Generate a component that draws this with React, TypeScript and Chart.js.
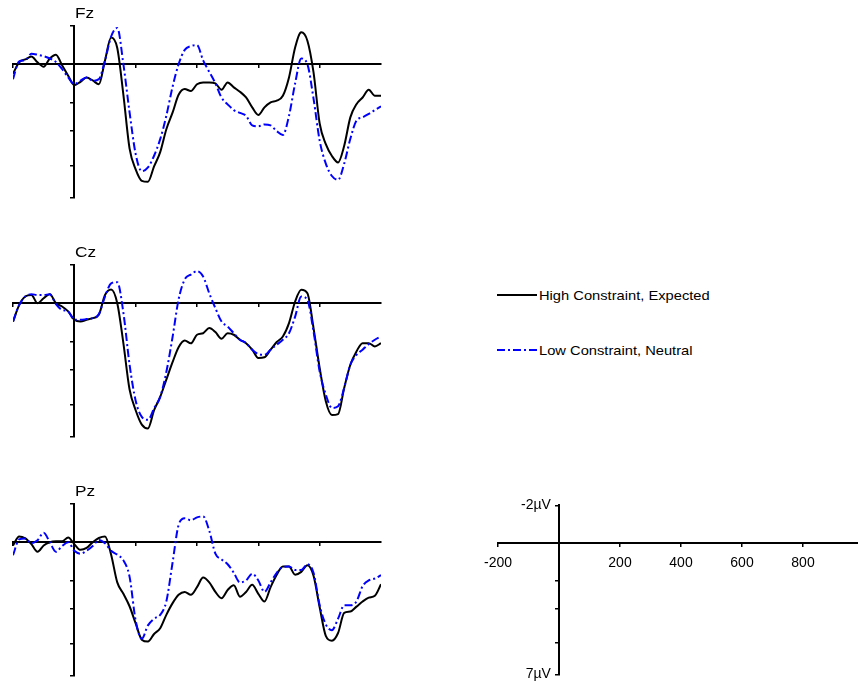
import React, { useEffect, useRef } from "react";
import { Chart, registerables } from "chart.js";

Chart.register(...registerables);

// time points (ms)
const times = [
  -200, -180, -160, -140, -120, -100, -80, -60, -40, -20,
  0, 20, 40, 60, 80, 100, 120, 140, 160, 180,
  200, 220, 240, 260, 280, 300, 320, 340, 360, 380,
  400, 420, 440, 460, 480, 500, 520, 540, 560, 580,
  600, 620, 640, 660, 680, 700, 720, 740, 760, 780,
  800, 820, 840, 860, 880, 900, 920, 940, 960, 980,
  1000,
];

// Fz (µV, positive plotted downward)
const fzHigh = [
  0.5, -0.1, -0.25, -0.4, -0.1, 0.13, -0.3, -0.5, 0.05, 0.6,
  1.1, 0.92, 0.7, 0.85, 1.05, -0.2, -1.4, -0.85, 1.6, 4.4,
  5.5, 6.1, 6.15, 5.35, 4.6, 3.4, 2.55, 1.6, 1.3, 1.4,
  1.05, 0.95, 0.95, 1.0, 1.34, 0.95, 1.21, 1.44, 1.74, 2.26,
  2.66, 2.26, 2.0, 1.91, 1.65, 0.69, -0.88, -1.67, -1.23, 0.43,
  3.1, 4.18, 4.8, 5.14, 4.27, 2.78, 2.09, 1.74, 1.34, 1.65,
  1.65,
];
const fzLow = [
  0.78, -0.15, -0.2, -0.55, -0.5, -0.42, -0.3, -0.12, 0.25, 0.69,
  1.04, 0.86, 0.69, 0.86, 0.78, -0.2, -1.45, -1.9, 0.0, 2.5,
  4.7, 5.6, 5.4, 4.79, 3.92, 2.7, 1.2, 0.0, -0.75, -0.95,
  -1.0, -0.2, 0.4, 1.0, 1.75, 2.1, 2.4, 2.55, 2.7, 3.2,
  3.25, 3.15, 3.2, 3.5, 3.7, 2.7, 1.0, -0.3, 0.0, 1.8,
  4.0, 5.2, 5.85, 6.05, 5.2, 3.9, 2.95, 2.78, 2.6, 2.4,
  2.2,
];

// Cz
const czHigh = [
  0.96, 0.1, -0.35, -0.43, 0.0, -0.26, -0.47, 0.0, 0.17, 0.43,
  0.87, 0.96, 0.87, 0.78, 0.6, -0.43, -0.72, 0.0, 2.1, 4.5,
  5.6, 6.35, 6.55, 5.6, 4.9, 4.0, 3.1, 2.3, 1.95, 2.1,
  1.65, 1.57, 1.3, 1.51, 1.86, 1.57, 1.65, 1.91, 2.09, 2.43,
  2.87, 2.83, 2.43, 2.03, 1.74, 1.04, -0.09, -0.7, -0.52, 1.3,
  3.39, 5.13, 5.85, 5.8, 4.43, 3.22, 2.52, 2.09, 2.09, 2.26,
  2.09,
];
const czLow = [
  0.96, 0.1, -0.35, -0.47, -0.43, -0.43, -0.47, 0.05, 0.35, 0.43,
  0.87, 0.87, 0.83, 0.78, 0.57, -0.35, -1.04, -1.1, 0.5, 3.2,
  5.1, 5.95, 6.1, 5.5, 4.9, 3.6, 1.8, -0.2, -1.25, -1.5,
  -1.68, -1.4, -0.52, 0.26, 0.96, 1.22, 1.57, 1.91, 2.09, 2.43,
  2.66, 2.7, 2.43, 2.17, 1.91, 1.57, 0.7, -0.35, -0.17, 1.48,
  3.57, 4.78, 5.48, 5.39, 4.43, 3.22, 2.7, 2.43, 2.14, 1.91,
  1.74,
];

// Pz
const pzHigh = [
  0.17, -0.3, -0.2, 0.1, 0.5, 0.17, 0.0, -0.05, -0.05, -0.25,
  0.1, 0.4, 0.3, 0.0, -0.22, -0.3, 0.65, 2.1, 2.7, 3.35,
  4.25, 5.1, 5.2, 4.8, 4.5, 3.8, 3.2, 2.75, 2.6, 2.75,
  2.35, 1.85, 2.1, 2.6, 2.93, 2.5, 2.25, 2.85, 2.6, 2.23,
  2.7, 3.1, 2.35, 1.7, 1.27, 1.27, 1.7, 1.55, 1.2, 1.75,
  3.4, 4.9, 5.15, 4.75, 3.7, 3.63, 3.37, 3.1, 2.9, 2.8,
  2.2,
];
const pzLow = [
  0.68, -0.15, -0.2, 0.05, -0.1, -0.5, 0.0, 0.5, 0.2, 0.0,
  0.45, 0.6, 0.45, 0.2, -0.12, 0.05, 0.45, 0.65, 0.95, 1.8,
  4.1, 5.05, 4.35, 4.0, 3.8, 3.1, 1.1, -0.9, -1.25, -1.15,
  -1.3, -1.35, -0.6, 0.6, 0.9, 1.15, 1.6, 2.1, 2.0, 1.65,
  2.0, 2.6, 2.1, 1.6, 1.3, 1.27, 1.45, 1.45, 1.15, 1.6,
  3.3, 4.3, 4.6, 4.0, 3.3, 3.3, 3.1, 2.3, 2.0, 1.9,
  1.72,
];

const panelNames = ["Fz", "Cz", "Pz"];
const seriesNames = ["High Constraint, Expected", "Low Constraint, Neutral"];
const xTickValues = [-200, 200, 400, 600, 800];
const yTickValues = [-2, 0, 2, 3.5, 5.3, 7];
const yLabelValues = [-2, 7];
const xMin = -200;
const xMax = 1000;
const yMin = -2;
const yMax = 7;

const FONT = "'Liberation Sans', Arial, Helvetica, sans-serif";
const BLUE = "#0000ff";
const BLACK = "#000000";

function pts(vals: number[]) {
  return times.map((t, i) => ({ x: t, y: vals[i] }));
}

function makeScales(showLabels: boolean) {
  return {
    x: {
      type: "linear",
      min: xMin,
      max: xMax,
      position: { y: 0 },
      afterBuildTicks: (s: any) => {
        s.ticks = xTickValues.map((v) => ({ value: v }));
      },
      grid: {
        display: true,
        drawOnChartArea: false,
        drawTicks: true,
        tickLength: 3,
        color: BLACK,
        lineWidth: 1.5,
      },
      border: { display: true, color: BLACK, width: 2 },
      ticks: {
        display: showLabels,
        autoSkip: false,
        maxRotation: 0,
        color: BLACK,
        padding: 9,
        font: { family: FONT, size: 14 },
        callback: (v: any) => String(v),
      },
    },
    y: {
      type: "linear",
      min: yMin,
      max: yMax,
      reverse: true,
      position: { x: 0 },
      afterBuildTicks: (s: any) => {
        s.ticks = yTickValues.map((v) => ({ value: v }));
      },
      grid: {
        display: true,
        drawOnChartArea: false,
        drawTicks: true,
        tickLength: 3,
        color: BLACK,
        lineWidth: 1.5,
      },
      border: { display: true, color: BLACK, width: 2 },
      ticks: {
        display: showLabels,
        autoSkip: false,
        color: BLACK,
        padding: 5,
        font: { family: FONT, size: 14 },
        callback: (v: any) =>
          yLabelValues.includes(v) ? `${v}µV\u2002\u200A` : "",
      },
    },
  };
}

type ChartBoxProps = {
  left: number;
  top: number;
  width: number;
  height: number;
  padding: { left: number; right: number; top: number; bottom: number };
  high?: number[];
  low?: number[];
  showLabels: boolean;
};

function ChartBox(props: ChartBoxProps) {
  const ref = useRef<HTMLCanvasElement | null>(null);
  useEffect(() => {
    if (!ref.current) return;
    const datasets: any[] = [];
    if (props.high && props.low) {
      datasets.push({
        label: seriesNames[0],
        data: pts(props.high),
        borderColor: BLACK,
        borderWidth: 2,
        pointRadius: 0,
        fill: false,
        cubicInterpolationMode: "monotone",
        order: 1,
      });
      datasets.push({
        label: seriesNames[1],
        data: pts(props.low),
        borderColor: BLUE,
        borderWidth: 2,
        borderDash: [8, 3, 2, 3],
        pointRadius: 0,
        fill: false,
        cubicInterpolationMode: "monotone",
        order: 0,
      });
    }
    const chart = new Chart(ref.current, {
      type: "line",
      data: { datasets },
      options: {
        animation: false,
        responsive: false,
        devicePixelRatio: 1,
        events: [],
        layout: { padding: props.padding },
        plugins: { legend: { display: false }, tooltip: { enabled: false } },
        scales: makeScales(props.showLabels) as any,
      },
    });
    return () => chart.destroy();
  }, []);
  return (
    <canvas
      ref={ref}
      width={props.width}
      height={props.height}
      style={{
        position: "absolute",
        left: props.left,
        top: props.top,
        width: props.width,
        height: props.height,
      }}
    />
  );
}

const panelData = [
  [fzHigh, fzLow],
  [czHigh, czLow],
  [pzHigh, pzLow],
];

export default function App() {
  const panelTops = [26, 265, 504];
  return (
    <div
      style={{
        position: "fixed",
        left: 0,
        top: 0,
        width: 858,
        height: 686,
        overflow: "hidden",
        background: "#fff",
        fontFamily: FONT,
      }}
    >
      {panelNames.map((name, i) => (
        <React.Fragment key={name}>
          <ChartBox
            left={0}
            top={panelTops[i] - 12}
            width={400}
            height={196}
            padding={{ left: 13, right: 19, top: 12, bottom: 12 }}
            high={panelData[i][0]}
            low={panelData[i][1]}
            showLabels={false}
          />
          <div
            style={{
              position: "absolute",
              left: 75,
              top: panelTops[i] - 21,
              fontSize: 15,
              lineHeight: "15px",
              color: BLACK,
              transform: "scaleX(1.15)",
              transformOrigin: "left top",
              whiteSpace: "nowrap",
            }}
          >
            {name}
          </div>
        </React.Fragment>
      ))}

      {/* legend */}
      <svg
        width={42}
        height={80}
        style={{ position: "absolute", left: 496, top: 285 }}
      >
        <line x1={1} y1={10} x2={41} y2={10} stroke={BLACK} strokeWidth={2} />
        <line
          x1={1}
          y1={65}
          x2={41}
          y2={65}
          stroke={BLUE}
          strokeWidth={2}
          strokeDasharray="8 3 2 3"
        />
      </svg>
      {seriesNames.map((s, i) => (
        <div
          key={s}
          style={{
            position: "absolute",
            left: 539,
            top: 288.5 + i * 55,
            fontSize: 13,
            lineHeight: "13px",
            color: BLACK,
            transform: "scaleX(1.13)",
            transformOrigin: "left top",
            whiteSpace: "nowrap",
          }}
        >
          {s}
        </div>
      ))}

      {/* scale axes */}
      <ChartBox
        left={470}
        top={492}
        width={420}
        height={196}
        padding={{ left: 28, right: 26, top: 12, bottom: 12 }}
        showLabels={true}
      />
    </div>
  );
}
